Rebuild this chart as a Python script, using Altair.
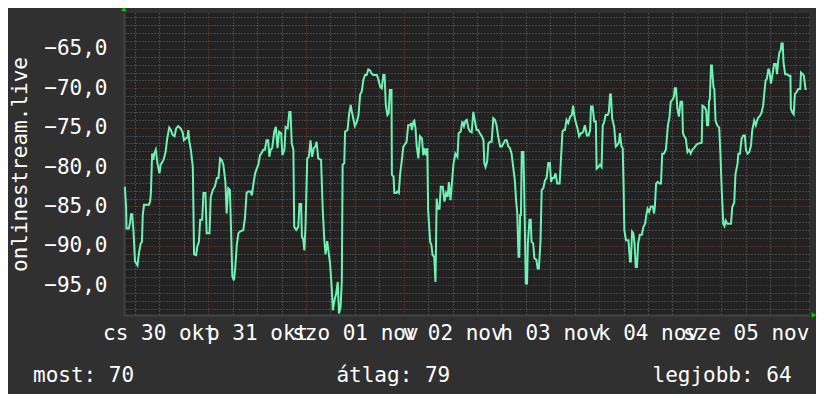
import altair as alt
import pandas as pd

# ---- data (hours since 2025-10-30 00:00, value) ----
HOURS = [
    3.5, 3.8, 3.9, 4.5, 4.8, 5.0, 5.3, 5.6, 6.0, 6.6, 7.0, 7.4, 7.7, 7.9, 8.2, 8.9, 9.4, 9.7, 9.9,
    10.2, 10.5, 10.7, 11.1, 11.5, 12.0, 12.3, 13.0, 13.5, 13.9, 14.4, 14.8, 15.2, 15.7, 16.1, 16.6,
    17.2, 17.7, 18.0, 18.4, 18.9, 19.1, 19.3, 19.7, 20.2, 20.5, 21.0, 21.3, 21.7, 22.0, 22.5, 22.8,
    23.3, 23.6, 24.3, 24.6, 25.1, 25.6, 26.1, 26.5, 26.9, 27.3, 27.7, 28.2, 28.5, 28.9, 29.3, 29.6,
    29.9, 30.3, 30.6,
    31.0, 31.4, 31.8, 32.6, 33.0, 33.4, 33.8, 34.4, 34.7, 35.1, 35.5, 35.9, 36.3, 36.7, 37.1, 37.5,
    37.9, 38.3, 38.7, 39.0, 39.3, 39.7, 40.2, 40.6, 41.0, 41.4, 41.9, 42.2, 42.7, 43.0, 43.5, 43.9,
    44.2, 44.5, 44.9, 45.1, 45.6, 46.1, 46.4, 46.8, 47.0, 47.3, 47.6, 47.9, 48.3, 48.7, 49.1, 49.5,
    49.9, 50.3, 50.6, 51.0, 51.7, 52.1, 52.5, 52.8, 53.2, 53.5, 53.9, 54.3, 54.6, 55.0, 55.4, 55.8,
    56.1, 56.5, 56.8, 57.0, 57.4, 57.6, 58.2, 58.6, 59.0,
    59.2, 59.6, 60.0, 60.4, 60.9, 61.3, 61.7, 62.1, 62.5, 62.9, 63.3, 63.7, 64.1, 64.5, 65.4, 65.8,
    66.2, 66.6, 67.0, 67.3, 67.6, 68.0, 68.3, 68.6, 69.0, 69.1, 69.5, 69.7, 70.1, 70.4, 70.8, 71.1,
    71.5, 71.9, 72.2, 72.7, 73.1, 73.6, 73.8, 74.0, 74.4, 74.6, 74.9, 75.2, 75.6, 76.0, 76.5, 76.8,
    77.1, 77.5, 77.8, 78.0, 78.5, 78.8, 79.1, 79.5, 79.8, 80.1, 80.4, 80.8, 81.1, 81.6, 82.0, 82.4,
    82.8, 83.1, 83.5, 83.9, 84.2, 84.7, 85.2, 85.5, 86.0, 86.4, 86.8, 87.2,
    87.5, 87.9, 88.3, 88.7, 89.1, 89.5, 89.9, 90.3, 90.7, 91.2, 91.6, 91.8, 92.1, 92.5, 92.8, 93.2,
    93.6, 94.0, 94.4, 94.8, 95.2, 95.7, 96.1, 96.5, 96.9, 97.3, 97.7, 98.1, 98.5, 98.9, 99.3, 99.6,
    99.9, 100.2, 100.4, 100.6, 100.8, 101.0, 101.4, 101.6, 102.0, 102.3, 102.5, 102.9, 103.2, 103.4,
    103.8, 104.1, 104.6, 104.9, 105.2, 105.6, 105.9, 106.3, 106.7, 107.1, 107.5, 107.9, 108.2, 108.5,
    108.9, 109.3, 109.7, 110.3, 110.6, 111.0, 111.3, 111.6, 112.0, 112.4, 112.9, 113.3, 113.6, 113.9,
    114.2, 114.7, 115.1, 115.5,
    115.7, 116.1, 116.5, 117.0, 117.4, 117.8, 118.0, 118.4, 118.8, 119.2, 119.4, 119.8, 120.2, 120.6,
    120.9, 121.2, 121.6, 122.1, 122.4, 122.7, 122.9, 123.2, 123.7, 124.1, 124.5, 124.9, 125.1, 125.5,
    125.8, 126.0, 126.2, 126.6, 127.2, 127.6, 127.8, 128.1, 128.4, 128.7, 129.0, 129.3, 129.6, 130.0,
    130.5, 130.9, 131.3, 131.6, 131.9, 132.3, 132.7, 133.2, 133.5, 133.7, 134.0, 134.4, 134.8, 135.2,
    135.5, 135.9, 136.4, 136.6, 136.9, 137.3, 137.6, 138.1, 138.4, 138.6, 138.9, 139.2, 139.6, 140.0,
    140.4, 140.6, 140.9, 141.3, 141.7, 142.1, 142.5, 142.9, 143.3,
    144.0, 144.5, 145.2, 145.4, 145.9, 146.3, 146.5, 146.8, 147.0, 147.2, 147.5, 147.7, 148.1, 148.3,
    148.6, 149.0, 149.5, 149.8, 150.1, 150.5, 150.8, 151.1, 151.5, 152.0, 152.4, 152.7, 153.2, 153.5,
    154.0, 154.2, 154.6, 155.0, 155.4, 155.8, 156.1, 156.5, 156.9, 157.3, 157.6, 158.1, 158.5, 158.8,
    159.1, 159.5, 159.9, 160.3, 160.6, 160.9, 161.2, 161.6, 161.9, 162.2, 162.6, 163.0, 163.4, 163.7,
    164.0, 164.3, 164.6, 164.8, 165.1, 165.3, 165.7, 166.2, 166.6, 167.0, 167.1, 167.5, 167.8, 168.1,
    168.5, 168.9, 169.4, 169.6, 170.0, 170.3, 170.7, 171.0,
]
VALUES = [
    -82.5, -85.0, -87.8, -87.8, -87.0, -86.0, -86.0, -88.0, -92.0, -92.5, -90.8, -89.7, -89.5, -86.1,
    -84.8, -84.8, -84.8, -84.4, -83.3,
    -78.3, -79.1, -78.3, -77.8, -79.5, -80.8, -79.7, -79.1, -78.1, -76.4, -75.0, -75.3, -75.9, -76.1,
    -75.1, -74.8,
    -75.1, -75.6, -76.6, -76.4, -76.2, -75.3, -76.6, -77.8, -80.0, -91.1, -91.2, -90.1, -89.5, -86.7,
    -86.7, -83.3,
    -83.3, -88.4, -88.4, -83.8, -82.9, -82.5, -81.4, -81.4, -78.9, -79.1, -79.7, -81.9, -85.9, -82.7,
    -82.9, -88.2,
    -93.9, -94.4, -92.9,
    -89.9, -88.4, -88.2, -88.0, -86.5, -83.3, -83.1, -83.1, -83.6, -82.1, -80.8, -80.2, -79.7, -78.5,
    -78.2, -77.8,
    -77.8, -76.6, -76.6, -78.7, -77.8, -77.6, -75.5, -74.9, -77.6, -75.5, -75.7, -78.5, -77.8, -74.9,
    -75.1, -73.0,
    -73.0, -77.0, -77.8, -87.6, -88.0, -87.6, -84.7, -84.7, -88.9, -89.1, -90.6, -87.2, -78.9, -78.7,
    -76.6, -78.7,
    -77.6, -77.4, -76.8, -78.9, -79.1, -85.3, -89.3, -91.1, -89.4, -90.6, -92.2, -95.2, -98.2, -96.9,
    -96.1, -94.6,
    -98.6, -97.8, -94.4, -79.7, -79.5, -75.5, -75.3, -73.2, -72.1,
    -72.8, -73.8, -74.8, -74.4, -73.4, -70.8, -70.4, -68.9, -68.3, -68.3, -67.6, -67.7, -68.1, -68.3,
    -68.3, -68.9,
    -69.8, -70.0, -68.3, -68.3, -72.1, -73.4, -73.2, -70.2, -70.2, -81.0, -81.2, -83.3, -83.3, -83.1,
    -83.3, -81.0,
    -79.3, -77.4, -77.2, -76.8, -74.7, -74.7, -74.4, -75.3, -74.2, -74.1, -75.1, -77.4, -78.9, -76.1,
    -76.4, -78.5,
    -77.6, -78.5, -77.6, -85.5, -89.5, -89.9, -91.2, -91.4, -94.6, -84.0, -85.3, -85.3, -82.5, -82.5,
    -84.4, -83.3,
    -83.8, -81.9, -84.2, -81.7, -79.7, -78.3, -78.7, -75.7, -75.5, -74.2, -74.8, -74.1,
    -74.0, -75.1, -75.5, -75.6, -73.0, -74.2, -75.3, -75.3, -75.7, -76.1, -76.6, -79.5, -80.0, -79.3,
    -77.0, -76.8,
    -76.8, -73.8, -74.0, -74.7, -76.1, -77.4, -77.4, -77.0, -76.6, -76.6, -77.4, -77.6, -78.3, -80.0,
    -81.7, -84.2,
    -85.9, -91.4, -91.4, -86.1, -86.1, -78.1, -78.1, -82.9, -94.8, -94.8, -89.7, -86.7, -86.7, -89.5,
    -89.7, -91.6, -91.8, -92.9, -92.9, -89.5, -82.9, -82.7, -81.7, -81.4, -79.5, -79.5, -81.9, -81.4,
    -81.4, -80.8, -82.1, -82.1, -79.3, -75.5, -75.3, -75.3, -74.0, -74.4, -73.6, -73.4, -72.2, -73.4,
    -74.2, -75.1, -76.1, -75.7,
    -75.7, -75.5, -74.7, -76.0, -76.0, -75.3, -72.3, -72.3, -74.2, -74.2, -80.2, -80.0, -79.7, -80.0,
    -74.7, -74.4, -73.4, -73.4, -73.0, -70.8, -70.8, -73.8, -74.9, -77.4, -77.2, -76.8, -75.7, -77.4,
    -77.6, -82.1, -88.0, -89.3, -89.3, -92.0, -92.0, -88.2, -88.4, -89.7, -92.7, -92.7, -89.7, -88.6,
    -88.6, -87.6, -87.2, -86.1, -85.3, -85.7, -85.0, -85.0, -85.9, -85.0, -82.1, -81.9, -82.1, -82.1,
    -78.3, -78.3, -77.8, -76.6, -74.7, -73.6, -71.7, -71.4, -71.0, -70.0, -70.0, -72.5, -73.6, -71.7,
    -71.7, -75.7, -76.1, -76.4, -78.1, -77.8, -78.3, -77.8, -77.6,
    -77.1, -77.0, -76.9, -72.2, -72.4, -72.8, -74.7, -74.7, -71.6, -71.4, -67.1, -67.1, -69.9, -70.1,
    -74.1, -74.7, -75.0, -78.3, -82.6, -87.2, -87.5, -86.8, -87.2, -87.2, -87.2, -85.1, -84.5, -80.9,
    -79.6, -78.3, -78.3, -76.4, -76.0, -76.0, -77.9, -78.3, -78.1, -77.3, -75.4, -74.1, -74.7, -74.1,
    -73.7, -73.5, -73.1, -72.2, -70.5, -69.0, -68.8, -67.5, -68.0, -69.4, -68.2, -66.9, -66.9, -68.2,
    -66.5, -65.4, -65.2, -64.3, -64.3, -66.7, -68.2, -68.2, -68.4, -68.4, -72.6, -73.1, -73.3, -70.7,
    -70.5, -70.1, -70.1, -68.0, -68.2, -68.4, -70.1, -70.1,
]
DAY_LABELS = ["cs 30 okt", "p 31 okt", "szo 01 nov", "v 02 nov", "h 03 nov", "k 04 nov", "sze 05 nov"]
SERIES_NAME = "onlinestream.live"
LEGEND = [("most", 70), ("átlag", 79), ("legjobb", 64)]

X_DOMAIN = [3.29, 171.56]
Y_DOMAIN = [-98.8, -60.43]

FONT = "DejaVu Sans Mono"
FS = 21
BG = "#303030"
PLOT_BG = "#222222"
LINE = "#6ff2b5"
GRID_MINOR = "#6a6a6a"
GRID_MAJOR = "#8a3636"

df = pd.DataFrame({"h": HOURS, "v": VALUES})

x_ticks = list(range(6, 172, 6))
y_ticks = list(range(-98, -60))

labels_js = "[" + ",".join("'" + s + "'" for s in DAY_LABELS) + "]"
x_label_expr = "datum.value % 24 == 12 ? " + labels_js + "[floor(datum.value / 24)] : ''"
y_label_expr = "datum.value % 5 == 0 ? replace(format(datum.value, '.1f'), '.', ',') : ''"

x_scale = alt.Scale(domain=X_DOMAIN, nice=False, zero=False)
y_scale = alt.Scale(domain=Y_DOMAIN, nice=False, zero=False)

x_axis = alt.Axis(
    values=x_ticks, tickCount=500, title=None, labelExpr=x_label_expr, labelOverlap=False,
    labelBound=False, labelFlush=False, ticks=False, labelPadding=7, labelFont=FONT,
    labelFontSize=FS, labelColor="white", grid=True,
    gridColor={"condition": {"test": "datum.value % 24 == 0", "value": GRID_MAJOR}, "value": GRID_MINOR},
    gridDash=[1, 2], gridWidth=1, domain=True, domainColor="#444444", domainWidth=2,
)
y_axis = alt.Axis(
    values=y_ticks, tickCount=500, title=SERIES_NAME, labelExpr=y_label_expr, labelOverlap=False,
    labelBound=False, labelFlush=False, ticks=False, labelPadding=17, labelFont=FONT,
    labelFontSize=FS, labelColor="white", labelBaseline="middle", grid=True,
    gridColor={"condition": {"test": "datum.value % 5 == 0", "value": GRID_MAJOR}, "value": GRID_MINOR},
    gridDash=[1, 2], gridWidth=1, domain=True, domainColor="#444444", domainWidth=2,
    titleFont=FONT, titleFontSize=FS, titleFontWeight="normal", titleColor="white",
    titleAngle=270, titleX=-104, titleY=151, titleAlign="center", titleBaseline="middle",
)

line = alt.Chart(df).mark_line(color=LINE, strokeWidth=2, clip=True).encode(
    x=alt.X("h:Q", scale=x_scale, axis=x_axis),
    y=alt.Y("v:Q", scale=y_scale, axis=y_axis),
)

arrow_up = alt.Chart(df.head(1)).mark_point(
    shape="triangle-up", filled=True, color="#00cc00", size=30, opacity=1, yOffset=-4, clip=False
).encode(x=alt.datum(X_DOMAIN[0]), y=alt.datum(Y_DOMAIN[1]))

arrow_right = alt.Chart(df.head(1)).mark_point(
    shape="triangle-right", filled=True, color="#00cc00", size=30, opacity=1, xOffset=5, clip=False
).encode(x=alt.datum(X_DOMAIN[1]), y=alt.datum(Y_DOMAIN[0]))

NBSP = "\u00a0"
legend_text = (NBSP * 16).join(f"{k}:{NBSP}{v}" for k, v in LEGEND)

chart = alt.layer(line, arrow_up, arrow_right).properties(
    width=685,
    height=302,
    autosize=alt.AutoSizeParams(type="none"),
    padding={"left": 116, "top": 5, "right": 7, "bottom": 79},
    background=BG,
    title=alt.TitleParams(
        text=legend_text, orient="bottom", anchor="start", frame="group", dx=-91,
        font=FONT, fontSize=FS, fontWeight="normal", color="white", baseline="top", offset=22,
    ),
).configure_view(fill=PLOT_BG, stroke=None)

chart.save("out.html", embed_options={"renderer": "svg", "actions": False})
